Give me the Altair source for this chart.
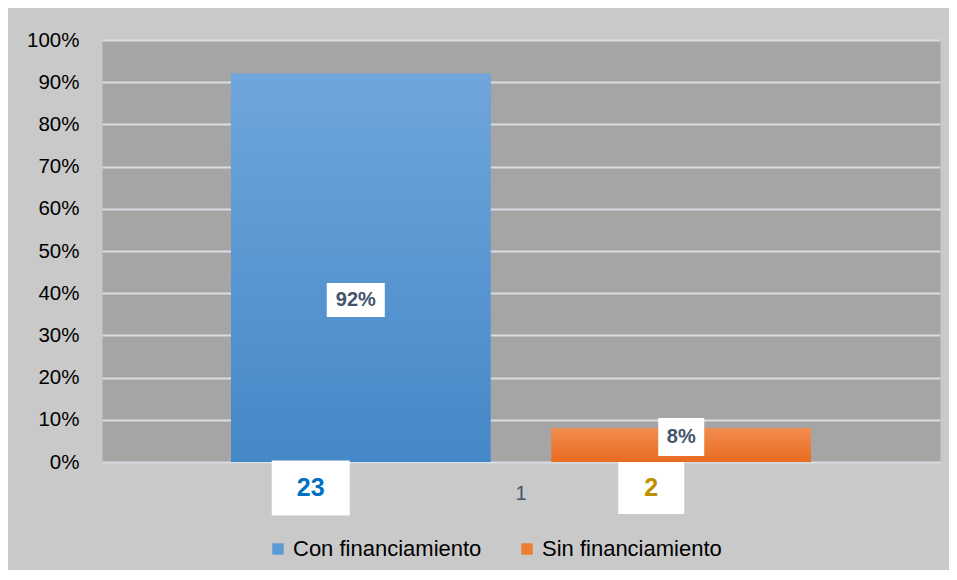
import altair as alt
import pandas as pd

# ---- data ----
group = ["1", "1"]
series = ["Con financiamiento", "Sin financiamiento"]
shares = [0.92, 0.08]
counts = [23, 2]
label_anchor = [0.384, 0.059]   # where the % labels sit (in share units)
y_ticks = [0, 0.1, 0.2, 0.3, 0.4, 0.5, 0.6, 0.7, 0.8, 0.9, 1.0]

df = pd.DataFrame({
    "grupo": group,
    "serie": series,
    "valor": shares,
    "n": counts,
    "pos": label_anchor,
    "pct": [f"{round(v * 100)}%" for v in shares],
})

FONT = "Liberation Sans"
flat = ["#5b9bd5", "#ed7d31"]
grad_stops = [("#6fa6dc", "#4488c7"), ("#f28d50", "#e86b1f")]

yscale = alt.Scale(domain=[0, 1], nice=False)
y_axis = alt.Axis(format="%", values=y_ticks, grid=True, gridColor="#d8dde4",
                  gridWidth=2, ticks=False, domain=False, labelFontSize=20.5,
                  labelFont=FONT, labelColor="#000000", labelPadding=23, title=None)

base = alt.Chart(df).encode(
    x=alt.X("grupo:N", title=None,
            scale=alt.Scale(paddingInner=0, paddingOuter=0.2224),
            axis=alt.Axis(labelAngle=0, ticks=False, domain=False, labelFontSize=20,
                          labelFont=FONT, labelColor="#44546a", labelPadding=21,
                          title=None)),
    xOffset=alt.XOffset("serie:N", sort=series,
                        scale=alt.Scale(paddingInner=0.19, paddingOuter=0)),
)

bars = base.mark_bar().encode(
    y=alt.Y("valor:Q", scale=yscale, axis=y_axis),
    color=alt.Color("serie:N", sort=series,
                    scale=alt.Scale(domain=series, range=flat),
                    legend=alt.Legend(orient="none", legendX=165, legendY=498,
                                      direction="horizontal", title=None,
                                      symbolType="square", symbolSize=130,
                                      symbolStrokeWidth=0, labelFontSize=22,
                                      labelFont=FONT, labelColor="#000000",
                                      labelLimit=400, labelOffset=4,
                                      columnPadding=34, padding=0)),
)

layers = [bars]

for i, s in enumerate(series):
    top, bottom = grad_stops[i]
    g = alt.Gradient(gradient="linear",
                     stops=[alt.GradientStop(color=top, offset=0),
                            alt.GradientStop(color=bottom, offset=1)],
                     x1=1, x2=1, y1=0, y2=1)
    layers.append(
        base.transform_filter(alt.datum.serie == s)
        .mark_bar(color=g)
        .encode(y=alt.Y("valor:Q", scale=yscale, axis=y_axis))
    )

# label boxes (shape paths: unit box, scaled by sqrt(size)/2)
pct_boxes = [
    ("M-1.172,-0.586H0.828V0.586H-1.172Z", 3364, -5),
    ("M-1,-0.826H1V0.826H-1Z", 2116, 0),
]
count_boxes = [
    ("M-2.282,-0.705H-0.282V0.705H-2.282Z", 6084, -50, "#0070c0"),
    ("M-1.909,-0.788H0.091V0.788H-1.909Z", 4356, -30, "#bf8f00"),
]

for i, s in enumerate(series):
    path, size, dx = pct_boxes[i]
    sub = base.transform_filter(alt.datum.serie == s)
    layers.append(
        sub.mark_point(shape=path, size=size, filled=True, fill="#ffffff",
                       opacity=1, strokeWidth=0)
        .encode(y=alt.Y("pos:Q", scale=yscale, axis=y_axis))
    )
    layers.append(
        sub.mark_text(fontSize=20, fontWeight="bold", font=FONT, color="#44546a",
                      dx=dx, baseline="middle")
        .encode(y=alt.Y("pos:Q", scale=yscale, axis=y_axis), text="pct:N")
    )
    cpath, csize, cdx, ccol = count_boxes[i]
    layers.append(
        sub.mark_point(shape=cpath, size=csize, filled=True, fill="#ffffff",
                       opacity=1, strokeWidth=0, yOffset=26)
        .encode(y=alt.Y(datum=0, type="quantitative", scale=yscale, axis=y_axis))
    )
    layers.append(
        sub.mark_text(fontSize=25, fontWeight="bold", font=FONT, color=ccol,
                      dx=cdx, dy=26, baseline="middle")
        .encode(y=alt.Y(datum=0, type="quantitative", scale=yscale, axis=y_axis),
                text="n:Q")
    )

chart = (
    alt.layer(*layers)
    .properties(width=838, height=422, background="#c9c9c9",
                padding={"left": 94, "top": 32, "right": 9, "bottom": 108},
                autosize=alt.AutoSizeParams(type="none"))
    .configure_view(fill="#a5a5a5", stroke="transparent")
)

chart.save("out.html", embed_options={"renderer": "svg", "actions": False})
